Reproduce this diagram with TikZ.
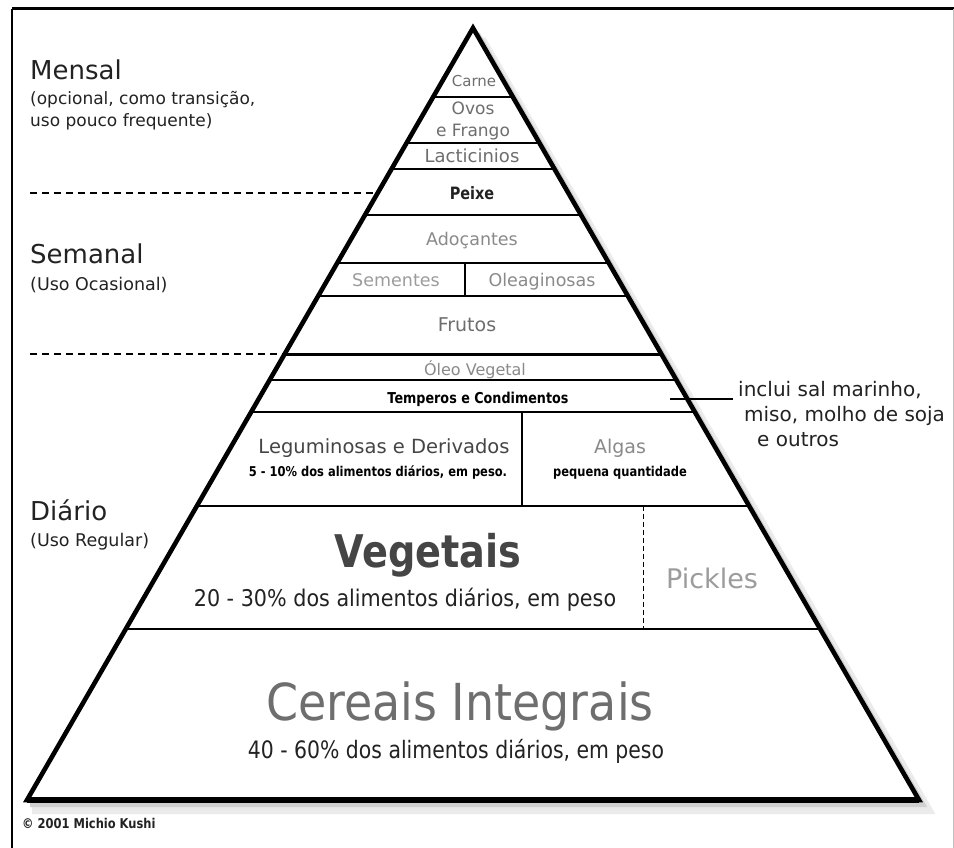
\documentclass[tikz,border=0pt]{standalone}
\usepackage{fontspec}
\setmainfont{DejaVu Sans}
\newfontfamily\narrowfont[FakeStretch=0.85]{DejaVu Sans}
\newfontfamily\slimfont[FakeStretch=0.9]{DejaVu Sans}
\newcommand{\fsz}[2]{\fontsize{#1}{#2}\selectfont}
\definecolor{inkdark}{HTML}{222222}
\definecolor{graymid}{HTML}{6E6E6E}
\definecolor{graylight}{HTML}{8A8A8A}
\definecolor{graypale}{HTML}{9C9C9C}
\definecolor{graydeep}{HTML}{454545}

\begin{document}
\begin{tikzpicture}[x=1pt, y=-1pt,
    lvl/.style={anchor=base west, inner sep=0pt, text=inkdark},
    tier/.style={anchor=base, inner sep=0pt},
    sep/.style={line width=#1pt}, sep/.default=1.4,
    guide/.style={line width=2pt, dash pattern=on 7pt off 5pt}]
  \useasboundingbox (0,0) rectangle (954,848);
  % frame
  \draw[line width=3pt] (954,9) -- (12,9);
  \draw[line width=2.4pt] (12,9) -- (12,848);
  \draw[black!25, line width=0.8pt] (953,9) -- (953,848);

  \coordinate (apex) at (473,28);
  \coordinate (bl) at (27,800);
  \coordinate (br) at (919,800);

  % shadow
  \draw[black!8, line width=12pt] (480,40) -- (925,808) -- (32,808);
  \draw[black!18, line width=6pt] (477,34) -- (922,804) -- (30,804);
  \fill[white] (apex) -- (br) -- (bl) -- cycle;

  % tiers
  \begin{scope}
    \clip (apex) -- (br) -- (bl) -- cycle;
    \foreach \y/\w in {97/1.2, 143/1.2, 169/2.8, 215/2, 263/2, 296/2, 354/3, 380/1.4, 412/1.4, 506/1.4, 629/1.4}
      \draw[sep=\w] (0,\y) -- (954,\y);
  \end{scope}
  \draw[sep=2] (465,263) -- (465,296);
  \draw[sep=1.4] (522,412) -- (522,506);
  \draw[line width=1pt, dash pattern=on 5pt off 3pt] (643,506) -- (643,629);

  % outline
  \draw[line width=4.6pt, line join=miter] (apex) -- (br) -- (bl) -- cycle;
  \draw[line width=6pt] (bl) -- (br);

  % frequency labels
  \node[lvl, font=\fsz{26}{30}] (mensal) at (30,80) {Mensal};
  \node[lvl, font=\fsz{17}{22}, align=left] (mensalsub) at (30,127) {(opcional, como transição,\\uso pouco frequente)};
  \coordinate (mdash) at (30,193);
  \coordinate (medge) at (377,193);
  \draw[guide] (mdash) -- (medge);
  \node[lvl, font=\fsz{26}{30}] (semanal) at (30,263) {Semanal};
  \node[lvl, font=\fsz{17.5}{21}] (semanalsub) at (30,290) {(Uso Ocasional)};
  \coordinate (sdash) at (30,354);
  \coordinate (sedge) at (286,354);
  \draw[guide] (sdash) -- (sedge);
  \node[lvl, font=\fsz{26}{30}] (diario) at (30,520) {Diário};
  \node[lvl, font=\fsz{17.5}{21}] (diariosub) at (30,546) {(Uso Regular)};

  % food groups
  \node[tier, font=\fsz{15}{18}, text=graymid] (carne) at (474,87) {Carne};
  \node[tier, font=\fsz{17}{22}, text=graymid, align=center] (ovos) at (473,137) {Ovos\\e Frango};
  \node[tier, font=\fsz{18}{22}, text=graymid] (lact) at (472,163) {Lacticinios};
  \node[tier, font=\narrowfont\fsz{17}{20}\bfseries, text=inkdark] (peixe) at (472,200) {Peixe};
  \node[tier, font=\fsz{17.5}{22}, text=graylight] (adoc) at (472,246) {Adoçantes};
  \node[tier, font=\fsz{17.5}{22}, text=graypale] (sement) at (396,286) {Sementes};
  \node[tier, font=\fsz{17.5}{22}, text=graylight] (oleag) at (542,286) {Oleaginosas};
  \node[tier, font=\fsz{19}{22}, text=graymid] (frutos) at (467,331) {Frutos};
  \node[tier, font=\fsz{16}{20}, text=graylight] (oleo) at (475,375) {Óleo Vegetal};
  \node[tier, font=\narrowfont\fsz{15}{18}\bfseries, text=black] (temp) at (478,403) {Temperos e Condimentos};
  \node[tier, font=\fsz{19.5}{22}, text=graydeep] (legum) at (384,453) {Leguminosas e Derivados};
  \node[tier, font=\narrowfont\fsz{13.5}{16}\bfseries, text=black] (legumpct) at (378,476) {5 - 10\% dos alimentos diários, em peso.};
  \node[tier, font=\fsz{19}{22}, text=graylight] (algas) at (620,453) {Algas};
  \node[tier, font=\narrowfont\fsz{13.5}{16}\bfseries, text=black] (algasqt) at (620,476) {pequena quantidade};
  \node[tier, font=\narrowfont\fsz{45}{50}\bfseries, text=graydeep] (veget) at (428,567) {Vegetais};
  \node[tier, font=\slimfont\fsz{23}{26}, text=inkdark] (vegetpct) at (405,606) {20 - 30\% dos alimentos diários, em peso};
  \node[tier, font=\fsz{27}{30}, text=graypale] (pickles) at (712,588) {Pickles};
  \node[tier, font=\slimfont\fsz{51}{56}, text=graymid] (cereais) at (460,720) {Cereais Integrais};
  \node[tier, font=\narrowfont\fsz{24}{28}, text=inkdark] (cereaispct) at (456,758) {40 - 60\% dos alimentos diários, em peso};

  % note on seasonings
  \node[lvl, font=\fsz{20}{25}, align=left] (note) at (738,446) {inclui sal marinho,\\\hspace*{6pt}miso, molho de soja\\\hspace*{19pt}e outros};
  \coordinate (tick) at (670,399);
  \draw[line width=1.2pt] (tick) -- ([xshift=-5pt]note.west |- tick);

  \node[lvl, font=\narrowfont\fsz{13.5}{16}\bfseries, text=inkdark] (credit) at (22,828) {© 2001 Michio Kushi};
\end{tikzpicture}
\end{document}
